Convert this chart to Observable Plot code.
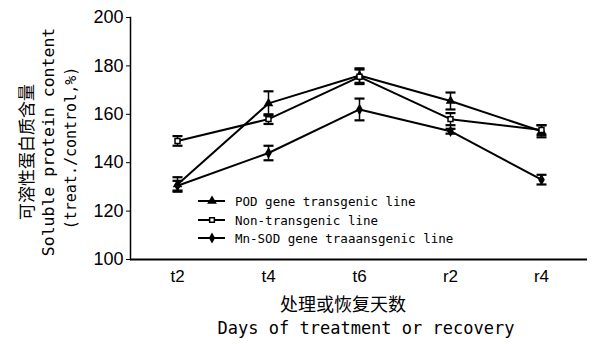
<!DOCTYPE html>
<html>
<head>
<meta charset="utf-8">
<script src="https://cdn.jsdelivr.net/npm/d3@7"></script>
<script src="https://cdn.jsdelivr.net/npm/@observablehq/plot@0.6"></script>
<style>
  html, body { margin: 0; padding: 0; background: #fff; }
  #chart { position: relative; width: 596px; height: 344px; }
</style>
</head>
<body>
<div id="chart"></div>
<script>
const days = ["t2", "t4", "t6", "r2", "r4"];
const seriesNames = ["POD gene transgenic line", "Non-transgenic line", "Mn-SOD gene traaansgenic line"];
const podValues = [131, 164.5, 176, 165.5, 153];
const podErrors = [3, 5, 3, 3.5, 2.5];
const nonValues = [149, 158, 175.5, 158, 153.5];
const nonErrors = [2, 2, 3, 2.5, 2];
const sodValues = [130.5, 144, 162, 153, 133];
const sodErrors = [2, 3, 4.5, 1, 2];
const yTicks = [100, 120, 140, 160, 180, 200];
const yTitleZh = "可溶性蛋白质含量";
const yTitleEn1 = "Soluble protein content";
const yTitleEn2 = "(treat./control,%)";
const xTitleZh = "处理或恢复天数";
const xTitleEn = "Days of treatment or recovery";

const symbols = ["triangle", "square", "diamond"];
const valueSets = [podValues, nonValues, sodValues];
const errorSets = [podErrors, nonErrors, sodErrors];

const data = [];
seriesNames.forEach((s, i) => {
  days.forEach((d, j) => {
    data.push({series: s, day: d, value: valueSets[i][j], lo: valueSets[i][j] - errorSets[i][j], hi: valueSets[i][j] + errorSets[i][j], sym: symbols[i]});
  });
});

const cap = { draw(ctx, size) { const w = Math.sqrt(size / Math.PI); ctx.moveTo(-w, 0); ctx.lineTo(w, 0); } };

const chart = Plot.plot({
  width: 596,
  height: 344,
  marginLeft: 130,
  marginRight: 9,
  marginTop: 17,
  marginBottom: 85,
  style: { fontFamily: "'Liberation Sans', Arial, sans-serif", background: "#fff", color: "#000" },
  x: { type: "point", domain: days, padding: 0.5, label: null, tickSize: 0, tickPadding: 10 },
  y: { domain: [100, 200], ticks: yTicks, label: null, tickSize: 4, tickPadding: 3 },
  marks: [
    Plot.frame({ anchor: "left", stroke: "#000", strokeWidth: 1.5 }),
    Plot.ruleY([100], { stroke: "#000", strokeWidth: 2 }),
    Plot.ruleX(data, { x: "day", y1: "lo", y2: "hi", stroke: "#000", strokeWidth: 1.5 }),
    Plot.dot(data, { x: "day", y: "lo", symbol: () => cap, r: 5, stroke: "#000", strokeWidth: 2.2 }),
    Plot.dot(data, { x: "day", y: "hi", symbol: () => cap, r: 5, stroke: "#000", strokeWidth: 2.2 }),
    Plot.line(data, { x: "day", y: "value", z: "series", stroke: "#000", strokeWidth: 2 }),
    Plot.dot(data.filter(d => d.sym !== "square"), { x: "day", y: "value", symbol: "sym", r: 2.6, fill: "#000", stroke: "#000" }),
    Plot.dot(data.filter(d => d.sym === "square"), { x: "day", y: "value", symbol: "square", r: 2.8, fill: "#fff", stroke: "#000", strokeWidth: 1.5 })
  ]
});

document.getElementById("chart").appendChild(chart);
const svg = d3.select(chart);
svg.selectAll("[aria-label='y-axis tick label']").style("font-size", "18px");
svg.selectAll("[aria-label='x-axis tick label']").style("font-size", "17px");

// y-axis titles
const yc = 142;
const mono = "'DejaVu Sans Mono', monospace";
const cjk = "'Noto Sans CJK SC', sans-serif";
svg.append("text").attr("transform", `translate(25,${yc + 10}) rotate(-90)`).attr("text-anchor", "middle").attr("dominant-baseline", "central")
  .attr("fill", "#000").style("font-family", cjk).style("font-size", "17px").text(yTitleZh);
svg.append("text").attr("transform", `translate(48,${yc}) rotate(-90)`).attr("text-anchor", "middle").attr("dominant-baseline", "central")
  .attr("fill", "#000").style("font-family", mono).style("font-size", "16.5px").text(yTitleEn1);
svg.append("text").attr("transform", `translate(71,${yc + 6}) rotate(-90)`).attr("text-anchor", "middle").attr("dominant-baseline", "central")
  .attr("fill", "#000").style("font-family", mono).style("font-size", "15px").text(yTitleEn2);

// x-axis titles
svg.append("text").attr("x", 343).attr("y", 303).attr("text-anchor", "middle").attr("dominant-baseline", "central")
  .attr("fill", "#000").style("font-family", cjk).style("font-size", "18px").text(xTitleZh);
svg.append("text").attr("x", 366).attr("y", 328).attr("text-anchor", "middle").attr("dominant-baseline", "central")
  .attr("fill", "#000").style("font-family", mono).style("font-size", "17px").text(xTitleEn);

// legend
const legendY = [201, 220, 238];
const symPaths = [d3.symbol(d3.symbolTriangle, 22)(), d3.symbol(d3.symbolSquare, 22)(), d3.symbol(d3.symbolDiamond, 18)()];
seriesNames.forEach((s, i) => {
  const g = svg.append("g").attr("transform", `translate(0,${legendY[i]})`);
  g.append("line").attr("x1", 198).attr("x2", 225).attr("y1", 0).attr("y2", 0).attr("stroke", "#000").attr("stroke-width", 2);
  g.append("path").attr("d", symPaths[i]).attr("transform", "translate(212,0)")
    .attr("fill", i === 1 ? "#fff" : "#000").attr("stroke", "#000").attr("stroke-width", 1.5);
  g.append("text").attr("x", 235).attr("y", 0).attr("text-anchor", "start").attr("dominant-baseline", "central")
    .attr("fill", "#000").style("font-family", mono).style("font-size", "12.5px").text(s);
});
</script>
</body>
</html>
